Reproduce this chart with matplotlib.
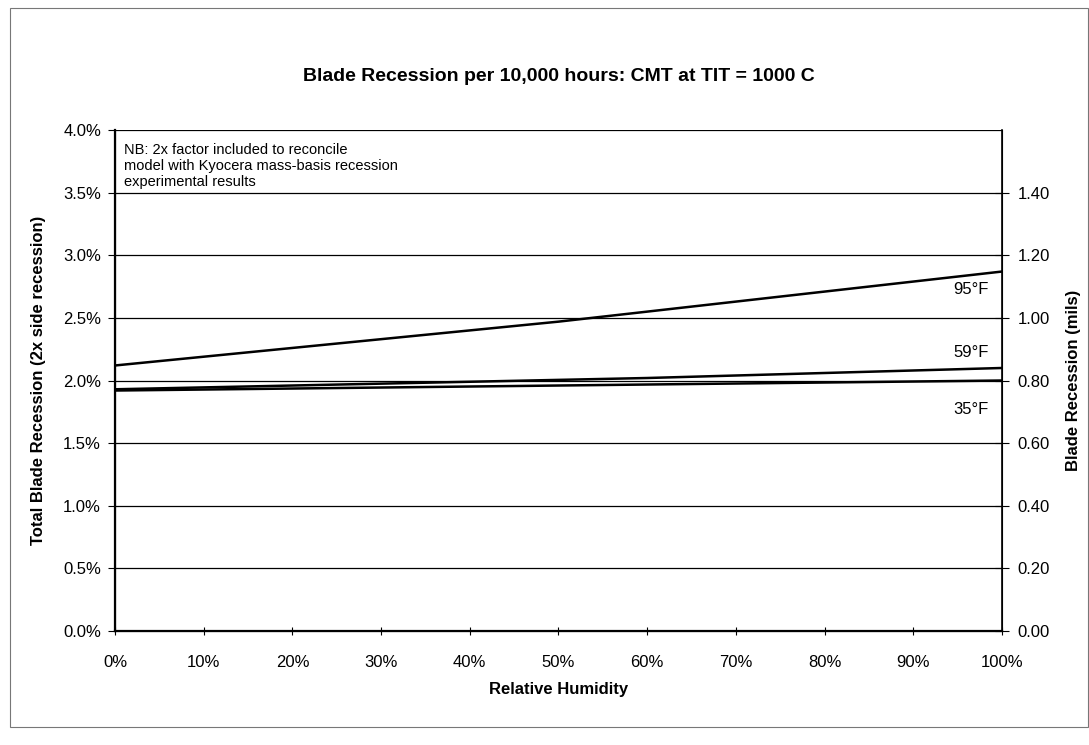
import numpy as np
import matplotlib
matplotlib.use("Agg")
import matplotlib.pyplot as plt
from matplotlib.patches import Rectangle

plt.rcParams["font.family"] = ["Liberation Sans", "DejaVu Sans"]

# relative humidity (%) and total recession (%) per inlet temperature
rh = [0, 10, 20, 30, 40, 50, 60, 70, 80, 90, 100]
rec_95f = [2.12, 2.19, 2.26, 2.33, 2.40, 2.47, 2.55, 2.63, 2.71, 2.79, 2.87]
rec_59f = [1.93, 1.945, 1.96, 1.975, 1.99, 2.005, 2.02, 2.04, 2.06, 2.08, 2.10]
rec_35f = [1.92, 1.928, 1.936, 1.944, 1.952, 1.96, 1.968, 1.976, 1.984, 1.992, 2.00]
series = [("95°F", rec_95f), ("59°F", rec_59f), ("35°F", rec_35f)]
label_y = [2.73, 2.22, 1.77]

left_ticks = [0.0, 0.5, 1.0, 1.5, 2.0, 2.5, 3.0, 3.5, 4.0]
right_ticks = [0.0, 0.2, 0.4, 0.6, 0.8, 1.0, 1.2, 1.4]
x_ticks = list(range(0, 101, 10))

fig = plt.figure(figsize=(10.89, 7.45), dpi=100)
ax = fig.add_axes([0.1056, 0.153, 0.8145, 0.6725])

for name, vals in series:
    ax.plot(rh, vals, color="black", lw=1.8)

for (name, vals), ly in zip(series, label_y):
    ax.text(98.5, ly, name, ha="right", va="center", fontsize=12)

ax.set_xlim(0, 100)
ax.set_ylim(0, 4.0)
ax.set_xticks(x_ticks)
ax.set_xticklabels([f"{t}%" for t in x_ticks], fontsize=12)
ax.set_yticks(left_ticks)
ax.set_yticklabels([f"{t:.1f}%" for t in left_ticks], fontsize=12)
ax.grid(axis="y", color="black", lw=0.9)
ax.tick_params(axis="x", direction="inout", length=6, width=0.8, pad=14)
ax.tick_params(axis="y", direction="out", length=5, width=0.8, pad=5)
ax.spines["top"].set_visible(False)
ax.spines["left"].set_linewidth(1.6)
ax.spines["bottom"].set_linewidth(1.6)

ax.set_xlabel("Relative Humidity", fontsize=12, fontweight="bold", labelpad=9)
ax.set_ylabel("Total Blade Recession (2x side recession)", fontsize=12,
              fontweight="bold", labelpad=12)
ax.set_title("Blade Recession per 10,000 hours: CMT at TIT = 1000 C",
             fontsize=14, fontweight="bold", pad=35)

ax.text(0.01, 0.975,
        "NB: 2x factor included to reconcile\n"
        "model with Kyocera mass-basis recession\n"
        "experimental results",
        transform=ax.transAxes, ha="left", va="top", fontsize=10.5,
        linespacing=1.2)

ax2 = ax.twinx()
ax2.set_ylim(0, 1.6)
ax2.set_yticks(right_ticks)
ax2.set_yticklabels([f"{t:.2f}" for t in right_ticks], fontsize=12)
ax2.tick_params(axis="y", direction="inout", length=10, width=0.8, pad=6)
ax2.spines["top"].set_visible(False)
ax2.spines["right"].set_linewidth(1.2)
ax2.set_ylabel("Blade Recession (mils)", fontsize=12, fontweight="bold",
               labelpad=12)

# scanned page frame
fig.patches.append(Rectangle((0.009, 0.024), 0.99, 0.965, transform=fig.transFigure,
                             fill=False, edgecolor="#777777", lw=0.8))

fig.savefig("out.png", dpi=100)
